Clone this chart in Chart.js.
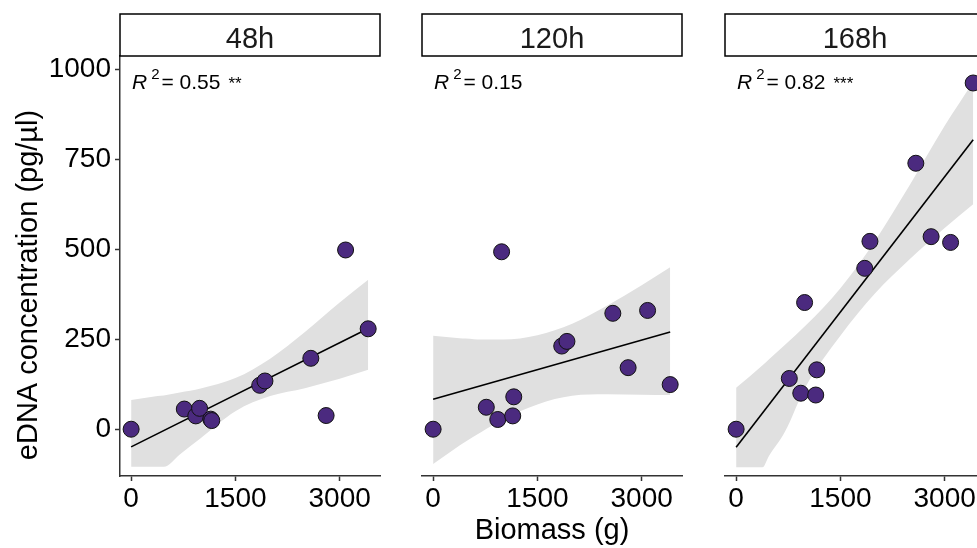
<!DOCTYPE html>
<html>
<head>
<meta charset="utf-8">
<script src="https://cdn.jsdelivr.net/npm/chart.js@4.4.1/dist/chart.umd.min.js"></script>
<style>
  html, body { margin: 0; padding: 0; background: #fff; overflow: hidden; }
  #wrap { position: relative; width: 977px; height: 548px; overflow: hidden; }
  canvas { position: absolute; top: 0; }
</style>
</head>
<body>
<div id="wrap">
  <canvas id="p48" width="400" height="548" style="left:0px"></canvas>
  <canvas id="p120" width="400" height="548" style="left:302px"></canvas>
  <canvas id="p168" width="400" height="548" style="left:605px"></canvas>
</div>
<script>
// biomass per tank (g), same for every sampling time
const biomass = [0, 765, 930, 985, 1145, 1160, 1850, 1925, 2585, 2805, 3085, 3410];
// eDNA concentration (pg/µl)
const conc48 = [0, 56, 37, 58, 28, 24, 122, 134, 197, 38, 498, 279];
const conc120 = [0, 61, 27, 493, 37, 90, 231, 244, 322, 171, 330, 124];
const conc168 = [0, 141, 100, 352, 95, 165, 447, 522, 739, 535, 519, 962];

// fitted lines (ends) and confidence band
const fitX = [0, 3410];
const fit48 = [-49, 280];
const fit120 = [83, 270];
const fit168 = [-50, 804];
const bandX = [0, 380, 470, 700, 1000, 1500, 2000, 2500, 3000, 3410];
const upper48 = [81, 92, 94, 102, 113, 142, 196, 270, 352, 415];
const lower48 = [-104, -104, -104, -70, -25, 50, 92, 114, 140, 165];
const upper120 = [260, 253, 252, 249, 249, 261, 293, 343, 400, 450];
const lower120 = [-97, -45, -34, -7, 27, 69, 93, 97, 96, 95];
const upper168 = [115, 178, 194, 234, 288, 392, 524, 679, 843, 965];
const lower168 = [-106, -106, -75, -8, 118, 260, 378, 473, 559, 625];

const xTicks = [0, 1500, 3000];
const yTicks = [0, 250, 500, 750, 1000];

const FONT = "Arial, 'Liberation Sans', sans-serif";
const PURPLE = '#4b2a7f';
const BAND = '#e0e0e0';
const AXIS = '#333';

const facetStrip = {
  id: 'facetStrip',
  afterDraw(chart, args, opts) {
    const { ctx, chartArea: a } = chart;
    ctx.save();
    ctx.fillStyle = '#fff';
    ctx.strokeStyle = '#000';
    ctx.lineWidth = 1.5;
    ctx.fillRect(a.left, 14, a.right - a.left, a.top - 14);
    ctx.strokeRect(a.left, 14, a.right - a.left, a.top - 14);
    ctx.fillStyle = '#1a1a1a';
    ctx.font = '29px ' + FONT;
    ctx.textAlign = 'center';
    ctx.textBaseline = 'alphabetic';
    ctx.fillText(opts.label, (a.left + a.right) / 2, 47.5);

    // R² annotation
    let x = a.left + 12;
    const y = 89;
    ctx.textAlign = 'left';
    ctx.fillStyle = '#000';
    ctx.font = 'italic 21px ' + FONT;
    ctx.fillText('R', x, y);
    x += ctx.measureText('R').width + 4;
    ctx.font = '15px ' + FONT;
    ctx.fillText('2', x, y - 10);
    x += ctx.measureText('2').width + 2;
    ctx.font = '21px ' + FONT;
    const txt = '= ' + opts.r2;
    ctx.fillText(txt, x, y);
    x += ctx.measureText(txt).width + 8;
    if (opts.stars) {
      ctx.font = '17px ' + FONT;
      ctx.fillText(opts.stars, x, y);
    }

    // y axis title, only on the first facet
    if (opts.yTitle) {
      ctx.translate(29, 285);
      ctx.rotate(-Math.PI / 2);
      ctx.font = '29px ' + FONT;
      ctx.textAlign = 'center';
      ctx.textBaseline = 'middle';
      ctx.fillText(opts.yTitle, 0, 0);
    }
    ctx.restore();
  }
};

function pts(xs, ys) {
  return xs.map((x, i) => ({ x: x, y: ys[i] }));
}

function panel(id, label, conc, fit, upper, lower, r2, stars, first, xTitle) {
  return new Chart(document.getElementById(id), {
    type: 'scatter',
    data: {
      datasets: [
        {
          data: pts(biomass, conc),
          pointRadius: 8,
          pointBackgroundColor: PURPLE,
          pointBorderColor: '#111',
          pointBorderWidth: 1,
          order: 0
        },
        {
          type: 'line',
          data: pts(fitX, fit),
          borderColor: '#000',
          borderWidth: 1.6,
          pointRadius: 0,
          fill: false,
          order: 1
        },
        {
          type: 'line',
          data: pts(bandX, upper),
          borderColor: 'rgba(0,0,0,0)',
          pointRadius: 0,
          backgroundColor: BAND,
          fill: '+1',
          cubicInterpolationMode: 'monotone',
          order: 2
        },
        {
          type: 'line',
          data: pts(bandX, lower),
          borderColor: 'rgba(0,0,0,0)',
          pointRadius: 0,
          fill: false,
          cubicInterpolationMode: 'monotone',
          order: 3
        }
      ]
    },
    options: {
      responsive: false,
      animation: false,
      layout: { padding: { top: 56, right: 20, bottom: 0, left: 0 } },
      plugins: {
        legend: { display: false },
        tooltip: { enabled: false },
        facetStrip: { label: label, r2: r2, stars: stars, yTitle: first ? 'eDNA concentration (pg/µl)' : '' }
      },
      scales: {
        x: {
          type: 'linear',
          min: -160,
          max: 3580,
          afterBuildTicks: s => { s.ticks = xTicks.map(v => ({ value: v })); },
          afterFit: s => { s.height = 72; },
          grid: { drawOnChartArea: false, drawTicks: true, tickLength: 5, tickColor: AXIS, tickWidth: 1.5 },
          border: { display: true, color: AXIS, width: 1.5 },
          ticks: { color: '#000', font: { family: FONT, size: 28 }, padding: 1, maxRotation: 0, autoSkip: false,
                   callback: v => String(v) },
          title: { display: xTitle, text: 'Biomass (g)', color: '#000', font: { family: FONT, size: 29 }, padding: { top: 0, bottom: 0 } }
        },
        y: {
          type: 'linear',
          min: -130,
          max: 1037,
          afterBuildTicks: s => { s.ticks = yTicks.map(v => ({ value: v })); },
          afterFit: s => { s.width = 120; },
          grid: { display: first, drawOnChartArea: false, drawTicks: true, tickLength: 5, tickColor: AXIS, tickWidth: 1.5 },
          border: { display: first, color: AXIS, width: 1.5 },
          ticks: { display: first, color: '#000', font: { family: FONT, size: 28 }, padding: 4,
                   callback: v => String(v) }
        }
      }
    },
    plugins: [facetStrip]
  });
}

panel('p48', '48h', conc48, fit48, upper48, lower48, '0.55', '**', true, false);
panel('p120', '120h', conc120, fit120, upper120, lower120, '0.15', '', false, true);
panel('p168', '168h', conc168, fit168, upper168, lower168, '0.82', '***', false, false);
</script>
</body>
</html>
